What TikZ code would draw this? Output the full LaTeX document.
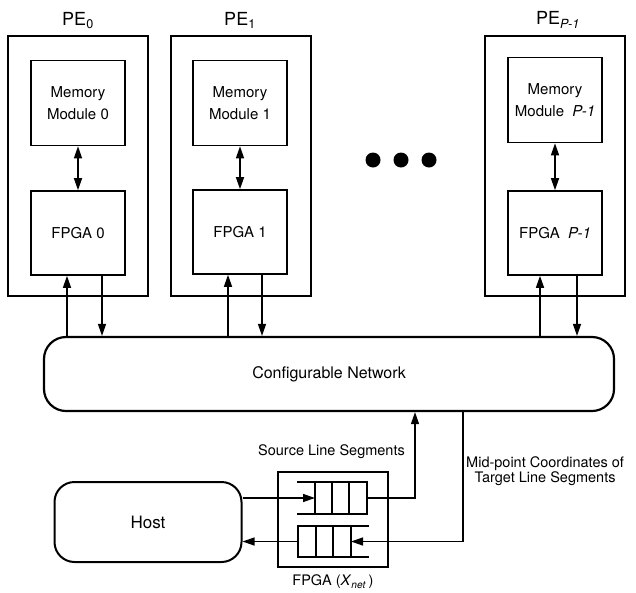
\documentclass[tikz,border=0pt]{standalone}
\usepackage{fontspec}
\setmainfont{TeX Gyre Heros}
\usetikzlibrary{arrows.meta}

\begin{document}
\begin{tikzpicture}[x=1pt, y=-1pt,
    pebox/.style={draw, line width=2.2pt, minimum width=140pt, minimum height=260pt, inner sep=0pt},
    unitbox/.style={draw, line width=1.6pt, minimum width=94pt, minimum height=84pt, inner sep=0pt, align=center, font=\fontsize{15}{22}\selectfont},
    pelabel/.style={font=\fontsize{18}{20}\selectfont},
    netbox/.style={draw, line width=2.2pt, rounded corners=22pt, minimum width=570pt, minimum height=74pt, font=\fontsize{16}{18}\selectfont},
    hostbox/.style={draw, line width=2pt, rounded corners=20pt, minimum width=187pt, minimum height=80pt, font=\fontsize{17}{19}\selectfont},
    xbox/.style={draw, line width=1.5pt, minimum width=110pt, minimum height=95pt, inner sep=0pt},
    txt/.style={font=\fontsize{14.5}{14.5}\selectfont, inner sep=0pt, align=center},
    qline/.style={line width=1.7pt},
    arr/.style={line width=1.4pt, -{Triangle[length=12pt, width=8pt]}},
    dblarr/.style={line width=1.4pt, {Triangle[length=12pt, width=8pt]}-{Triangle[length=12pt, width=8pt]}}
  ]
  \useasboundingbox (0,0) rectangle (636,592);

  % processing elements
  \node[pebox] (pe0) at (78,166) {};
  \node[pebox] (pe1) at (241,166) {};
  \node[pebox] (pep) at (555,166) {};

  \node[pelabel] (pe0lab) at (78,21) {PE\textsubscript{0}};
  \node[pelabel] (pe1lab) at (240,20) {PE\textsubscript{1}};
  \node[pelabel] (peplab) at (558,20) {PE\textsubscript{\textit{P-1}}};

  % memory modules and FPGAs
  \node[unitbox, minimum height=85pt] (mem0) at (78,103) {Memory\\Module 0};
  \node[unitbox, minimum height=85pt] (mem1) at (240,103) {Memory\\Module 1};
  \node[unitbox, minimum height=85pt] (memp) at (555,100) {Memory\\Module \ \textit{P-1}};

  \node[unitbox] (fpga0) at (78,233) {FPGA 0};
  \node[unitbox] (fpga1) at (240,232) {FPGA 1};
  \node[unitbox] (fpgap) at (555,233) {FPGA \ \textit{P-1}};

  \draw[dblarr] (mem0) -- (fpga0);
  \draw[dblarr] (mem1) -- (fpga1);
  \draw[dblarr] (memp) -- (fpgap);

  % the dots between PE_1 and PE_{P-1}
  \fill (373,160) circle (7.5pt);
  \fill (401,160) circle (7.5pt);
  \fill (429,160) circle (7.5pt);

  % network
  \node[netbox] (net) at (329,374) {Configurable Network};

  % links between the FPGAs and the network
  \coordinate (up0) at ([xshift=-11pt]fpga0.south);
  \coordinate (dn0) at ([xshift=24pt]fpga0.south);
  \coordinate (up1) at ([xshift=-12pt]fpga1.south);
  \coordinate (dn1) at ([xshift=22pt]fpga1.south);
  \coordinate (upp) at ([xshift=-15pt]fpgap.south);
  \coordinate (dnp) at ([xshift=22pt]fpgap.south);

  \draw[arr] (up0 |- net.north) -- (up0);
  \draw[arr] (dn0) -- (dn0 |- net.north);
  \draw[arr] (up1 |- net.north) -- (up1);
  \draw[arr] (dn1) -- (dn1 |- net.north);
  \draw[arr] (upp |- net.north) -- (upp);
  \draw[arr] (dnp) -- (dnp |- net.north);

  % host and interface FPGA
  \node[hostbox] (host) at (148,522) {Host};
  \node[xbox] (xnet) at (333,519.5) {};
  \node[txt] (xlab) at (333,582) {FPGA (\textit{X}\textsubscript{\textit{net}}\,)};

  % queues inside the interface FPGA
  \draw[qline] (297,482) -- (367,482) -- (367,514) -- (297,514);
  \draw[qline] (315,482) -- (315,514) (332,482) -- (332,514) (349,482) -- (349,514);
  \draw[qline] (369,526) -- (298,526) -- (298,557) -- (369,557);
  \draw[qline] (316,526) -- (316,557) (333,526) -- (333,557) (351,526) -- (351,557);

  \coordinate (qin) at (315,498);
  \coordinate (qout) at (367,498);
  \coordinate (rin) at (351,541.5);
  \coordinate (rout) at (298,541.5);

  % links between host, queues and network
  \coordinate (src) at ([xshift=86pt]net.south);
  \coordinate (mid) at ([xshift=134pt]net.south);

  \draw[arr] (host.east |- qin) -- (qin);
  \draw[arr] (qout) -| (src);
  \draw[arr] (mid) |- (rin);
  \draw[arr] (rout) -- (host.east |- rout);

  % link labels
  \node[txt, anchor=east] (srclab) at (405,452) {Source Line Segments};
  \node[txt, anchor=west] (midlab) at (466,471) {Mid-point Coordinates of\\Target Line Segments};
\end{tikzpicture}
\end{document}
